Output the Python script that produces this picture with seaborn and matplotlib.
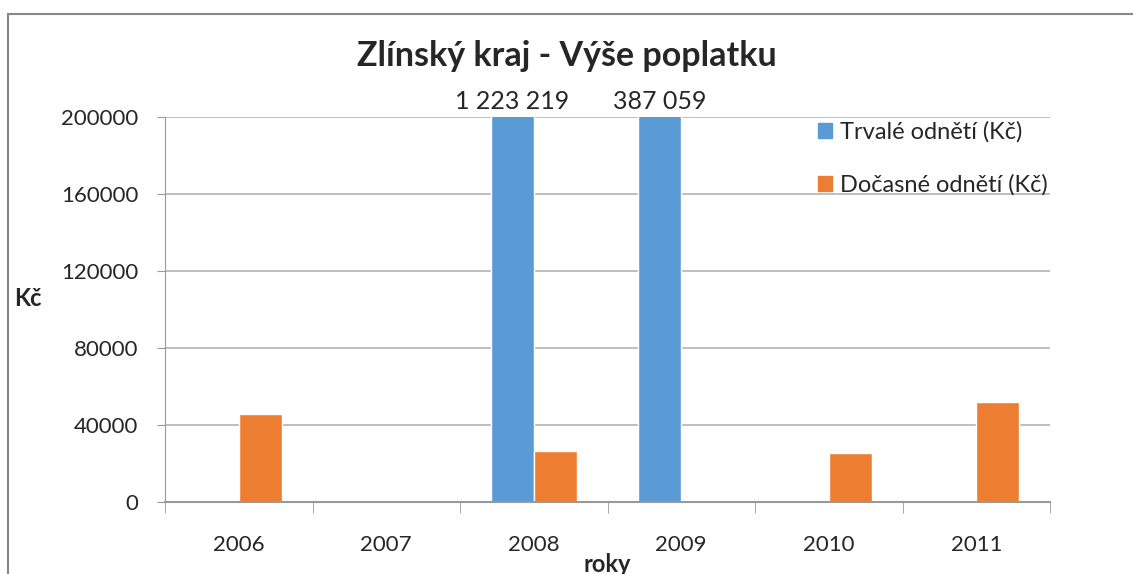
import numpy as np
import pandas as pd
import seaborn as sns
import matplotlib.pyplot as plt
from matplotlib.patches import Rectangle

years = ["2006", "2007", "2008", "2009", "2010", "2011"]
trvale = [0, 0, 1223219, 387059, 0, 0]
docasne = [45700, 0, 26500, 0, 25400, 51900]
series = ["Trvalé odnětí (Kč)", "Dočasné odnětí (Kč)"]
colors = ["#5B9BD5", "#ED7D31"]

df = pd.DataFrame({
    "rok": years * 2,
    "hodnota": trvale + docasne,
    "serie": [series[0]] * len(years) + [series[1]] * len(years),
})

sns.set_style("white")
plt.rcParams['font.family'] = ['Lato', 'DejaVu Sans']

fig = plt.figure(figsize=(11.33, 5.74), dpi=100)
ax = fig.add_axes([165 / 1133, 1 - 502 / 574, (1050 - 165) / 1133, (502 - 117) / 574])

sns.barplot(data=df, x="rok", y="hodnota", hue="serie", palette=colors,
            width=0.58, saturation=1, ax=ax, legend=False)

ax.set_ylim(0, 200000)
ax.set_xlim(-0.5, len(years) - 0.5)
ax.set_yticks(np.arange(0, 200001, 40000))
ax.set_yticklabels([str(v) for v in range(0, 200001, 40000)], fontsize=16)
ax.yaxis.grid(True, color="#B3B3B3", linewidth=1.2)
ax.set_axisbelow(True)
for s in ["top", "right"]:
    ax.spines[s].set_visible(False)
ax.spines["left"].set_color("#999999")
ax.spines["bottom"].set_color("#999999")
ax.spines["bottom"].set_linewidth(1.5)
ax.tick_params(axis="y", length=6, color="#999999", left=True, pad=13)
ax.set_xticks(range(len(years)))
ax.set_xticklabels(years, fontsize=16)
ax.set_xticks(np.arange(-0.5, len(years), 1), minor=True)
ax.tick_params(axis="x", which="major", length=0, pad=24)
ax.tick_params(axis="x", which="minor", length=8, color="#999999", bottom=True)

ax.set_xlabel("roky", fontsize=17, fontweight="bold", labelpad=-2)
ax.set_ylabel("Kč", fontsize=17, fontweight="bold", rotation=0, labelpad=0)
ax.yaxis.set_label_coords(-0.155, 0.5)

# labels above bars that exceed the axis range
for bar, val in zip(ax.patches[:len(years)], trvale):
    if val > 200000:
        txt = "{:,}".format(val).replace(",", " ")
        ax.text(bar.get_x() + bar.get_width() / 2, 200000 + 2000, txt,
                ha="center", va="bottom", fontsize=18)

handles = [Rectangle((0, 0), 1, 1, color=c) for c in colors]
ax.legend(handles, series, loc="upper right", bbox_to_anchor=(1.022, 1.045),
          frameon=False, fontsize=17, handlelength=0.6, handleheight=0.6,
          handletextpad=0.35, labelspacing=1.35)

fig.suptitle("Zlínský kraj - Výše poplatku", fontsize=24.5, fontweight="bold", y=0.93)

fig.patches.append(Rectangle((8 / 1133, -0.1), 1.2, 1 - 14 / 574 + 0.1,
                             transform=fig.transFigure, fill=False,
                             edgecolor="#888888", linewidth=1.5))

fig.savefig("out.png", dpi=100)
